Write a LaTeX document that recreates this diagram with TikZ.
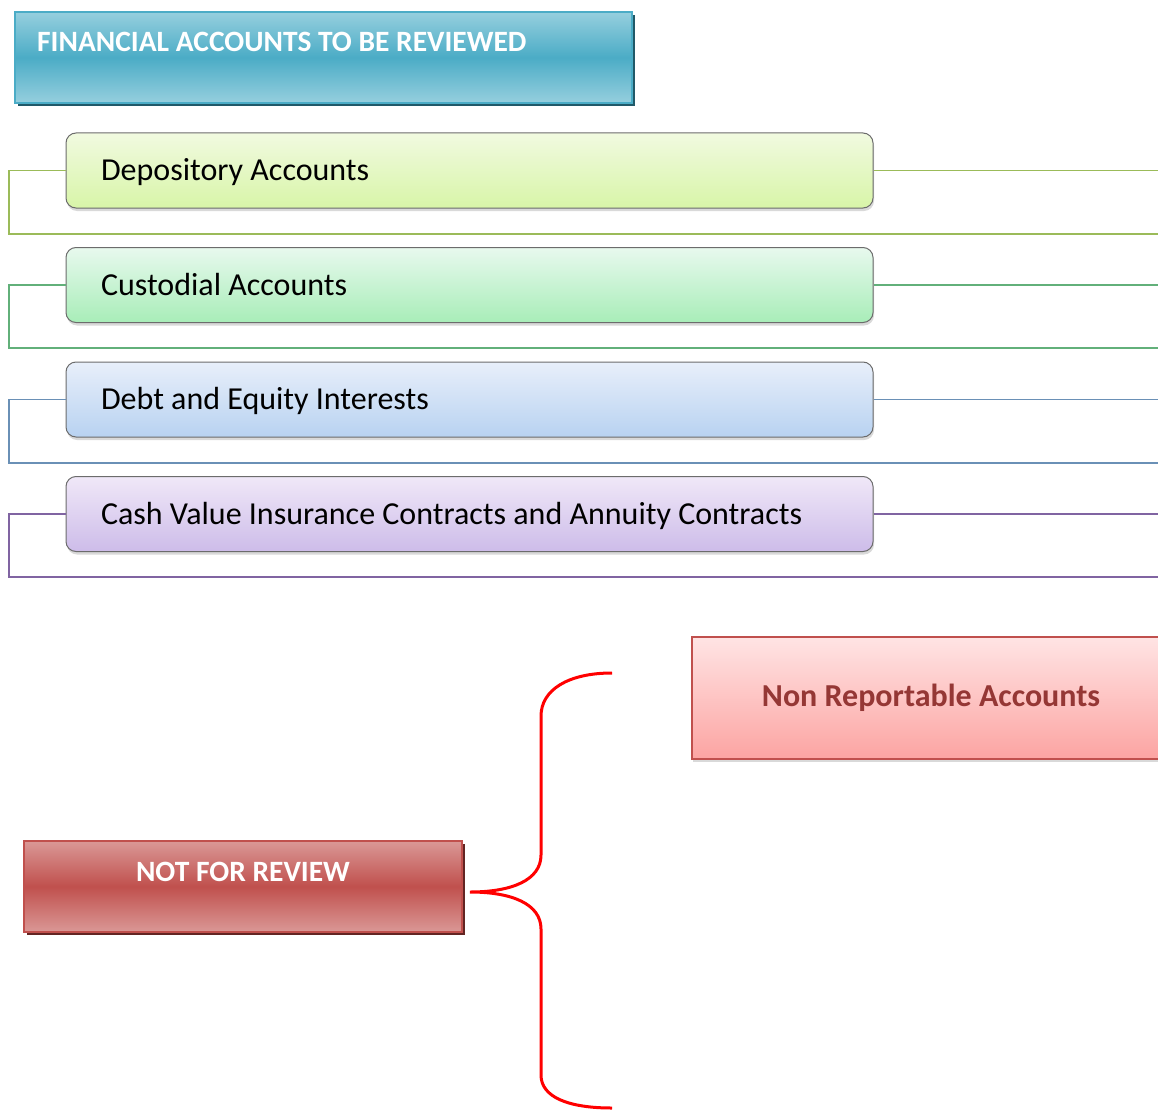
\documentclass[tikz,border=0pt]{standalone}
\usepackage{fontspec}
\setmainfont{Carlito}
\usepackage{xcolor}
\usetikzlibrary{shadows}

\definecolor{hdrmid}{HTML}{4BACC6}
\definecolor{hdrlight}{HTML}{96CFDE}
\definecolor{hdrshade}{HTML}{215968}
\definecolor{redmid}{HTML}{C0504D}
\definecolor{redlight}{HTML}{DA9896}
\definecolor{redshade}{HTML}{632523}
\definecolor{pinktop}{HTML}{FFE4E4}
\definecolor{pinkbot}{HTML}{FCA4A2}
\definecolor{pinktext}{HTML}{953735}
\definecolor{depline}{HTML}{9BBB59}
\definecolor{deptop}{HTML}{F1FAE0}
\definecolor{depbot}{HTML}{D8F5A8}
\definecolor{cusline}{HTML}{62B07A}
\definecolor{custop}{HTML}{E8F9EE}
\definecolor{cusbot}{HTML}{A8EDB8}
\definecolor{debline}{HTML}{6A90B6}
\definecolor{debtop}{HTML}{E8EFFA}
\definecolor{debbot}{HTML}{B8D2F1}
\definecolor{casline}{HTML}{8064A2}
\definecolor{castop}{HTML}{F0E8F8}
\definecolor{casbot}{HTML}{CDBCE9}

\tikzset{
  rowbox/.style={draw=gray!85!black, line width=1pt, rounded corners=10pt,
    minimum width=807pt, minimum height=75pt, text width=737pt, inner xsep=35pt,
    text height=25pt, text depth=5pt,
    align=left, font=\fontsize{32}{36}\selectfont,
    execute at begin node={\spaceskip=0pt\xspaceskip=0pt},
    drop shadow={shadow xshift=1pt, shadow yshift=-3pt, opacity=0.3}},
  rowline/.style={line width=1.6pt},
  capbox/.style={line width=1.5pt, inner sep=0pt},
  captext/.style={text=white, font=\bfseries\fontsize{29.5}{34}\selectfont, inner sep=0pt},
  brace/.style={draw=red, line width=3pt}
}

\begin{document}
\begin{tikzpicture}[x=1pt,y=-1pt]
\useasboundingbox (0,0) rectangle (1158,1110);

\node[capbox, draw=hdrmid, top color=hdrlight, bottom color=hdrlight, middle color=hdrmid,
  minimum width=617pt, minimum height=91pt,
  drop shadow={shadow xshift=3pt, shadow yshift=-3pt, fill=hdrshade, opacity=1}] (hdr) at (323.5,57.5) {};
\node[captext, anchor=west] (hdrt) at (37,42) {FINANCIAL ACCOUNTS TO BE REVIEWED};

\node[rowbox, top color=deptop, bottom color=depbot] (dep) at (469.5,170.5) {Depository Accounts};
\node[rowbox, top color=custop, bottom color=cusbot] (cus) at (469.5,285) {Custodial Accounts};
\node[rowbox, top color=debtop, bottom color=debbot] (deb) at (469.5,399.5) {Debt and Equity Interests};
\node[rowbox, top color=castop, bottom color=casbot] (cas) at (469.5,514) {Cash Value Insurance Contracts and Annuity Contracts};

\coordinate (depa) at (9,234);
\coordinate (depb) at (1158,234);
\coordinate (cusa) at (9,348);
\coordinate (cusb) at (1158,348);
\coordinate (deba) at (9,463);
\coordinate (debb) at (1158,463);
\coordinate (casa) at (9,577);
\coordinate (casb) at (1158,577);

\draw[rowline, depline] (dep.west) -| (depa) -- (depb);
\draw[rowline, depline] (dep.east) -- (dep.east -| depb);
\draw[rowline, cusline] (cus.west) -| (cusa) -- (cusb);
\draw[rowline, cusline] (cus.east) -- (cus.east -| cusb);
\draw[rowline, debline] (deb.west) -| (deba) -- (debb);
\draw[rowline, debline] (deb.east) -- (deb.east -| debb);
\draw[rowline, casline] (cas.west) -| (casa) -- (casb);
\draw[rowline, casline] (cas.east) -- (cas.east -| casb);

\node[capbox, draw=redmid, top color=pinktop, bottom color=pinkbot,
  minimum width=478pt, minimum height=122pt,
  text=pinktext, font=\bfseries\fontsize{32}{36}\selectfont,
  drop shadow={shadow xshift=1pt, shadow yshift=-3pt, opacity=0.3}] (nonrep) at (931,698) {Non Reportable Accounts};

\node[capbox, draw=redmid, top color=redlight, bottom color=redlight, middle color=redmid,
  minimum width=438pt, minimum height=91pt,
  drop shadow={shadow xshift=3pt, shadow yshift=-3pt, fill=redshade, opacity=1}] (notrev) at (243,886.5) {};
\node[captext] (notrevt) at (243,872) {NOT FOR REVIEW};

\coordinate (tip) at (470,892);
\draw[brace] (612,673) .. controls (568,673) and (541,690) .. (541,716) -- (541,855)
  .. controls (541,880) and (512,892) .. (tip)
  .. controls (512,892) and (541,904) .. (541,929) -- (541,1075)
  .. controls (541,1097) and (568,1108) .. (612,1108);
\end{tikzpicture}
\end{document}
